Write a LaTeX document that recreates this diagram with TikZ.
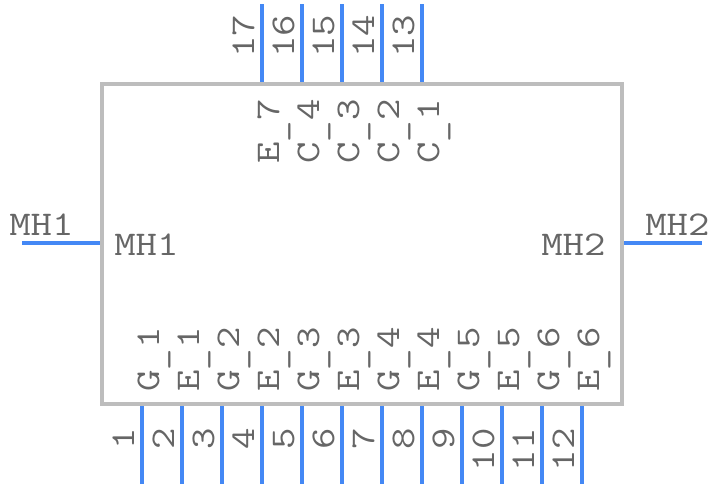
\documentclass[tikz,border=0pt]{standalone}
\usepackage{fontspec}
\setmonofont[FakeStretch=1.2]{Latin Modern Mono}
\usetikzlibrary{positioning,calc}

\definecolor{pinblue}{HTML}{4488F5}
\definecolor{bodygrey}{HTML}{BDBDBD}
\definecolor{textgrey}{HTML}{666666}

\newcommand{\pinbar}{\raisebox{-3.4pt}{\_}}

\tikzset{
    pinline/.style={draw=pinblue, line width=3pt},
    bodyline/.style={draw=bodygrey, line width=3pt},
    pintext/.style={text=textgrey, inner sep=0pt, font=\ttfamily\fontsize{26}{26}\selectfont},
    vpinnum/.style={pintext, rotate=90, anchor=base east},
    tpinnum/.style={pintext, rotate=90, anchor=base west},
    padname/.style={pintext, rotate=90, anchor=base west},
    mhname/.style={pintext, anchor=base west},
}

\begin{document}
\begin{tikzpicture}[x=0.75pt, y=-0.75pt]
        \useasboundingbox (0, 0) rectangle (724, 488);

        % Body corners
        \coordinate (TL) at (102, 84);
        \coordinate (TR) at (622, 84);
        \coordinate (BR) at (622, 404);
        \coordinate (BL) at (102, 404);

        % Bottom pins, left to right
        \foreach \n/\name [evaluate=\n as \px using {102 + 40*\n}] in
            {1/G\pinbar 1, 2/E\pinbar 1, 3/G\pinbar 2, 4/E\pinbar 2, 5/G\pinbar 3, 6/E\pinbar 3,
             7/G\pinbar 4, 8/E\pinbar 4, 9/G\pinbar 5, 10/E\pinbar 5, 11/G\pinbar 6, 12/E\pinbar 6} {
            \coordinate (P\n a) at (\px, 404);
            \coordinate (P\n b) at (\px, 484);
            \draw [pinline] (P\n a) -- (P\n b);
            \node [vpinnum] (N\n) at (\px - 8, 428) {\n};
            \node [padname] (L\n) at (\px + 17, 392) {\name};
        }

        % Top pins, numbers run right to left
        \foreach \n/\name [evaluate=\n as \px using {422 + 40*(13 - \n)}] in
            {13/C\pinbar 1, 14/C\pinbar 2, 15/C\pinbar 3, 16/C\pinbar 4, 17/E\pinbar 7} {
            \coordinate (P\n a) at (\px, 84);
            \coordinate (P\n b) at (\px, 4);
            \draw [pinline] (P\n a) -- (P\n b);
            \node [tpinnum] (N\n) at (\px - 8, 58) {\n};
            \node [padname] (L\n) at (\px + 17, 164) {\name};
        }

        % Mounting holes
        \coordinate (MH1a) at (102, 243);
        \coordinate (MH1b) at (22, 243);
        \coordinate (MH2a) at (622, 243);
        \coordinate (MH2b) at (702, 243);
        \draw [pinline] (MH1a) -- (MH1b);
        \draw [pinline] (MH2a) -- (MH2b);

        \node [mhname] (MH1out) at (9, 236) {MH1};
        \node [mhname] (MH1in) at (114, 256) {MH1};
        \node [mhname] (MH2in) at (541, 256) {MH2};
        \node [mhname] (MH2out) at (645, 236) {MH2};

        \draw [bodyline, line join=miter] (TL) -- (TR) -- (BR) -- (BL) -- cycle;
\end{tikzpicture}
\end{document}
